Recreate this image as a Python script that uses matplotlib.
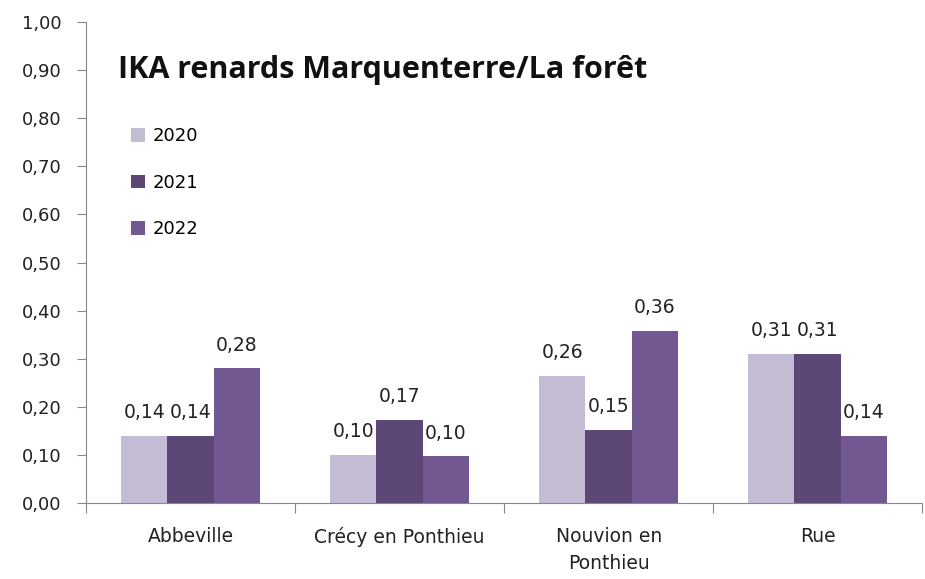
import matplotlib.pyplot as plt
import numpy as np

communes = ["Abbeville", "Crécy en Ponthieu", "Nouvion en\nPonthieu", "Rue"]
annees = ["2020", "2021", "2022"]
v2020 = [0.14, 0.10, 0.265, 0.31]
v2021 = [0.14, 0.173, 0.153, 0.31]
v2022 = [0.28, 0.097, 0.357, 0.14]
labels2020 = ["0,14", "0,10", "0,26", "0,31"]
labels2021 = ["0,14", "0,17", "0,15", "0,31"]
labels2022 = ["0,28", "0,10", "0,36", "0,14"]
couleurs = ["#c4bcd4", "#5d4777", "#715891"]

fig = plt.figure(figsize=(9.25, 5.79), dpi=100)
ax = fig.add_axes([0.093, 0.131, 0.904, 0.831])

x = np.arange(len(communes))
w = 0.222
series = [v2020, v2021, v2022]
labs = [labels2020, labels2021, labels2022]
for i, (vals, lb) in enumerate(zip(series, labs)):
    pos = x + (i - 1) * w
    ax.bar(pos, vals, w, color=couleurs[i], label=annees[i])
    for p, v, t in zip(pos, vals, lb):
        ax.annotate(t, (p, v), xytext=(0, 10), textcoords="offset points",
                    ha="center", va="bottom", fontsize=13.5, color="#222222")

ax.set_xlim(-0.5, len(communes) - 0.5)
ax.set_ylim(0, 1.0)
ax.set_yticks(np.arange(0, 1.01, 0.1))
ax.set_yticklabels([f"{v:.2f}".replace(".", ",") for v in np.arange(0, 1.01, 0.1)],
                   fontsize=13, color="#222222")
ax.set_xticks(np.arange(-0.5, len(communes)), minor=False)
ax.set_xticklabels([])
ax.set_xticks(x, minor=True)
ax.set_xticklabels(communes, minor=True, fontsize=13.5, color="#222222",
                   linespacing=1.55)
ax.tick_params(axis="x", which="minor", length=0, pad=17)
ax.tick_params(axis="x", which="major", length=7, color="#888888")
ax.tick_params(axis="y", length=6.5, color="#888888", pad=11)
for s in ["top", "right"]:
    ax.spines[s].set_visible(False)
for s in ["left", "bottom"]:
    ax.spines[s].set_color("#888888")

ax.text(0.038, 0.884, "IKA renards Marquenterre/La forêt", transform=ax.transAxes,
        fontsize=22, fontweight="bold", family="Open Sans", color="#111111",
        va="baseline")

ax.legend(loc="upper left", bbox_to_anchor=(0.034, 0.815), frameon=False,
          fontsize=13, handlelength=0.77, handleheight=0.77, handletextpad=0.45,
          labelspacing=1.58)

fig.savefig("out.png", dpi=100)
